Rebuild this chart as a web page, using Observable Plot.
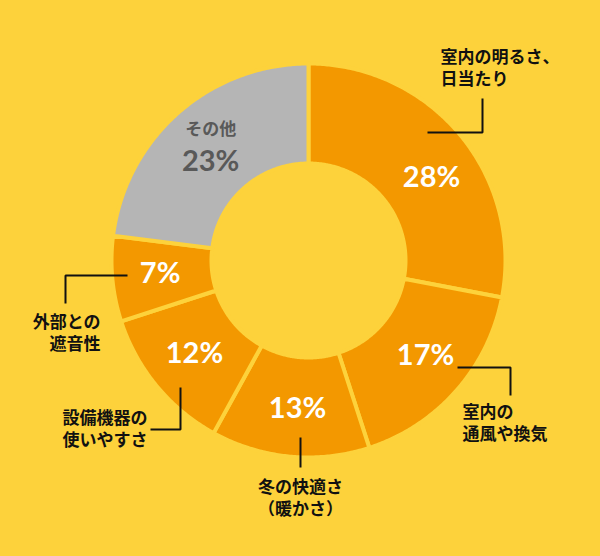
<!DOCTYPE html>
<html><head><meta charset="utf-8">
<script src="https://cdn.jsdelivr.net/npm/d3@7"></script>
<script src="https://cdn.jsdelivr.net/npm/@observablehq/plot@0.6"></script>
<style>html,body{margin:0;padding:0;background:#FDD23B;overflow:hidden;}</style>
</head><body><div id="chart"></div>
<script>
// ---- data ----
const categories = ["室内の明るさ、\n日当たり", "室内の\n通風や換気", "冬の快適さ\n（暖かさ）", "設備機器の\n使いやすさ", "外部との\n遮音性", "その他"];
const shares = [28, 17, 13, 12, 7, 23];
const pctLabels = ["28%", "17%", "13%", "12%", "7%", "23%"];
const segColors = ["#F39800", "#F39800", "#F39800", "#F39800", "#F39800", "#B5B5B5"];

// ---- layout (pixels relative to chart centre) ----
const W = 600, H = 556, CX = 308, CY = 260;
const R_OUT = 197, R_IN = 97, R_LABEL = 148;
const BG = "#FDD23B";
const labelNudge = [[9, 12], [6, -3], [3, 1], [0, -1], [-1, -1], [0, 0]];
const calloutAnchor = ["start", "start", "middle", "end", "end"];
const calloutTextPos = [[132, -192], [154, 163], [-8, 238], [-161, 169], [-208, 73]];
const LINE_GAP = 22;
const leaderPaths = [
  [[119, -128], [174, -128], [174, -162]],
  [[149, 107], [202, 107], [202, 135]],
  [[-8, 177], [-8, 207]],
  [[-158, 169], [-128, 169], [-128, 127]],
  [[-181, 15], [-243, 15], [-243, 43]]
];

// ---- derived geometry ----
const total = d3.sum(shares);
const polar = (r, t) => ({x: r * Math.sin(t), y: -r * Math.cos(t)});
let acc = 0;
const segs = shares.map((v, i) => {
  const a0 = acc / total * 2 * Math.PI; acc += v;
  const a1 = acc / total * 2 * Math.PI;
  return {i, a0, a1, mid: (a0 + a1) / 2};
});
function ring(s) {
  const n = Math.max(8, Math.ceil((s.a1 - s.a0) * 180 / Math.PI * 2));
  const pts = [];
  for (let k = 0; k <= n; k++) pts.push(polar(R_OUT, s.a0 + (s.a1 - s.a0) * k / n));
  for (let k = n; k >= 0; k--) pts.push(polar(R_IN, s.a0 + (s.a1 - s.a0) * k / n));
  pts.push(pts[0]);
  return pts;
}
const pctData = segs.map(s => {
  const p = polar(R_LABEL, s.mid);
  return {x: p.x + labelNudge[s.i][0], y: p.y + labelNudge[s.i][1], text: pctLabels[s.i], other: s.i === 5};
});
const calloutData = calloutTextPos.flatMap((p, i) => {
  const lines = categories[i].split("\n");
  return lines.map((t, j) => ({x: p[0], y: p[1] + (j - (lines.length - 1) / 2) * LINE_GAP, text: t, anchor: calloutAnchor[i]}));
});
const leaderData = leaderPaths.flatMap((path, i) => path.map(p => ({x: p[0], y: p[1], k: i})));

const marks = [
  ...segs.map(s => Plot.line(ring(s), {x: "x", y: "y", fill: segColors[s.i], stroke: BG, strokeWidth: 4, strokeLinejoin: "round", curve: "linear"})),
  Plot.line(leaderData, {x: "x", y: "y", z: "k", stroke: "#111", strokeWidth: 2, strokeLinejoin: "miter", strokeLinecap: "butt"}),
  Plot.text(pctData.filter(d => !d.other), {x: "x", y: "y", text: "text", fill: "white", fontSize: 29, fontWeight: 700, fontFamily: "Lato, sans-serif"}),
  Plot.text(pctData.filter(d => d.other), {x: "x", y: "y", text: "text", dy: 12, fill: "#595959", fontSize: 29, fontWeight: 700, fontFamily: "Lato, sans-serif"}),
  Plot.text(pctData.filter(d => d.other), {x: "x", y: "y", text: () => categories[5], dy: -20, fill: "#595959", fontSize: 17, fontWeight: 700, fontFamily: "'Noto Sans CJK JP', sans-serif"}),
  ...["start", "middle", "end"].map(a => Plot.text(calloutData.filter(d => d.anchor === a), {x: "x", y: "y", text: "text", textAnchor: a, fill: "#111", fontSize: 17, fontWeight: 700, fontFamily: "'Noto Sans CJK JP', sans-serif"}))
];

const chart = Plot.plot({
  width: W, height: H,
  margin: 0,
  x: {domain: [-CX, W - CX], range: [0, W], axis: null},
  y: {domain: [-CY, H - CY], range: [0, H], axis: null},
  style: {background: BG, overflow: "visible"},
  marks
});
document.getElementById("chart").append(chart);
</script>
</body></html>
